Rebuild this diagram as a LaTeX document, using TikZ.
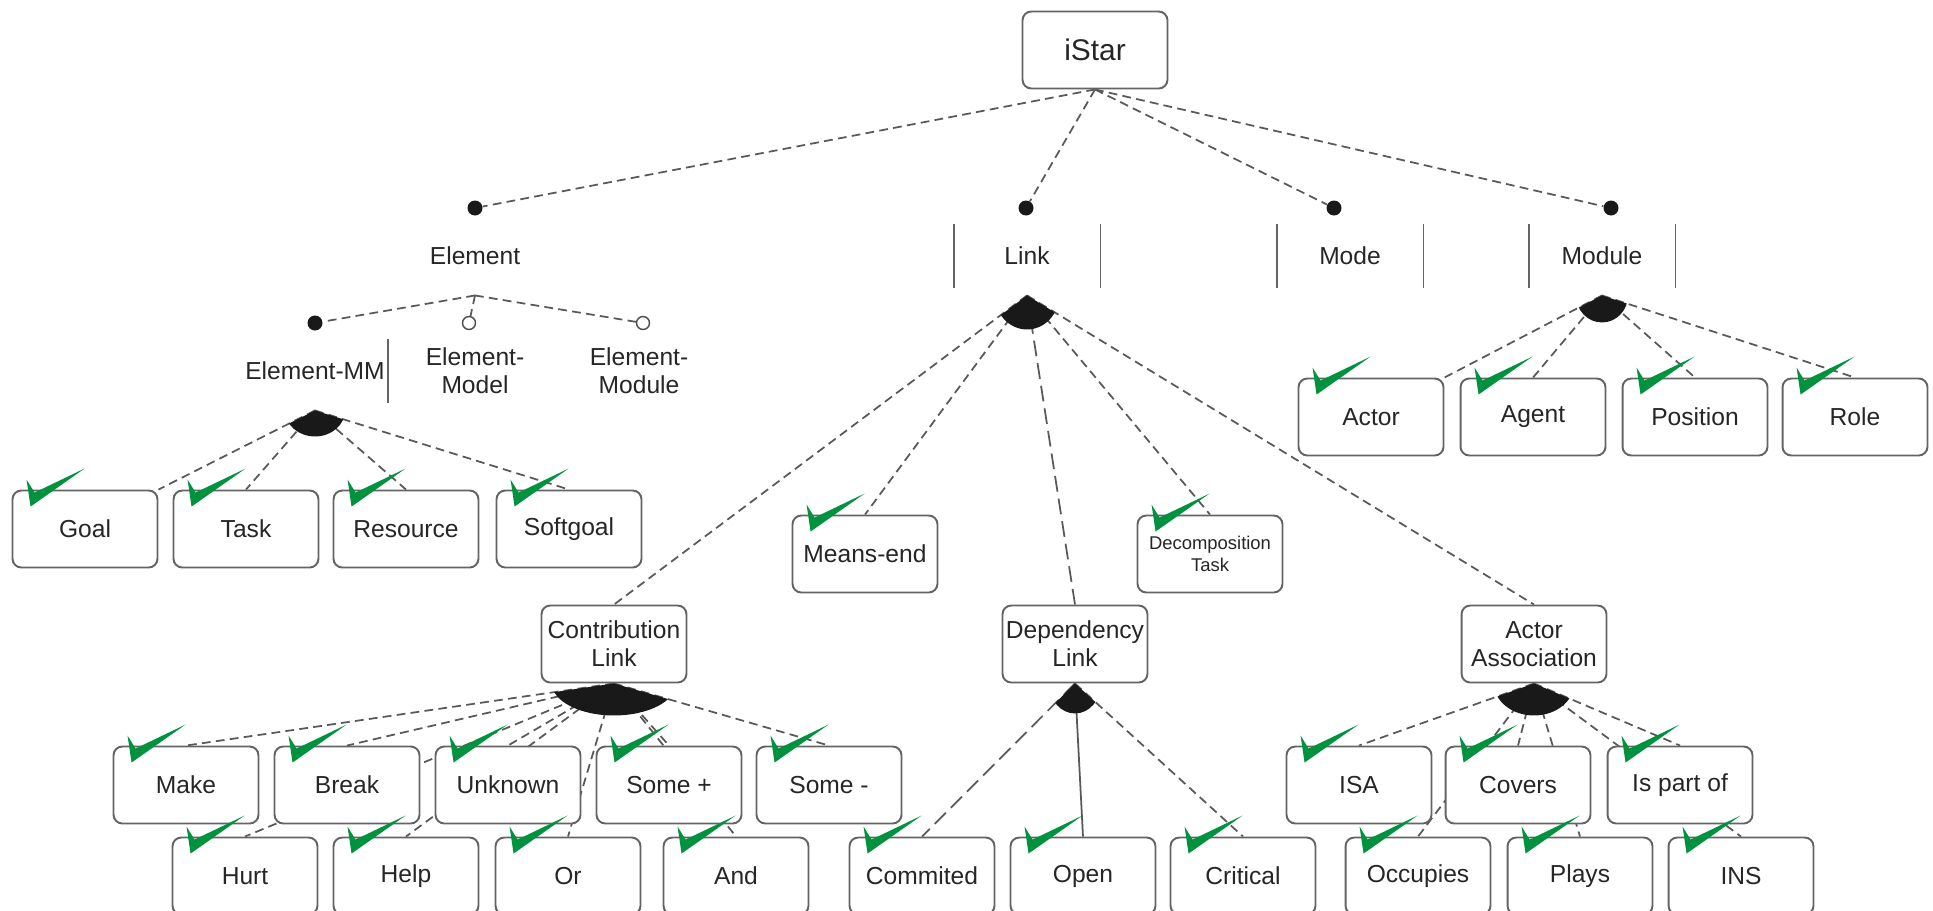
\documentclass[tikz,border=0pt]{standalone}
\usepackage{fontspec}
\setmainfont{Liberation Sans}
\usetikzlibrary{calc,backgrounds}
\definecolor{tickgreen}{RGB}{0,146,63}
\definecolor{boxgray}{RGB}{100,100,100}

\newcommand{\orfan}[5]{%
  \begin{scope}
    \clip (#1.south) -- ($(#1.south)!3!(#2)$) -- ($(#1.south)!3!(#3)$) -- cycle;
    \fill[black!90] (#1.south) ellipse (#4 and #5);
  \end{scope}}

\begin{document}
\begin{tikzpicture}[x=0.02cm, y=-0.02cm,
    feat node/.style={draw=boxgray, line width=1.1pt, rounded corners=5pt, fill=white,
      minimum width=2.9cm, minimum height=1.54cm, align=center, inner sep=1pt,
      font=\fontsize{14}{16}\selectfont, text=black!85},
    abs node/.style={feat node, draw=none, fill=none},
    mand/.style={circle, fill=black!90, inner sep=0pt, minimum size=0.3cm},
    opt/.style={circle, draw=black!70, line width=0.8pt, fill=white, inner sep=0pt, minimum size=0.26cm},
    conn/.style={draw=black!65, line width=1pt, dash pattern=on 5pt off 3pt},
    dep line/.style={draw=black!65, line width=1pt, dash pattern=on 9pt off 4pt}]

  \useasboundingbox (0,0) rectangle (1933,910);

  \node[feat node, font=\fontsize{17}{20}\selectfont] (istar) at (1095,50) {iStar};

  \node[abs node] (elem) at (475,256) {Element};
  \node[abs node] (link) at (1027,256) {Link};
  \node[abs node] (mode) at (1350,256) {Mode};
  \node[abs node] (modl) at (1602,256) {Module};

  \node[abs node] (elmm) at (315,371) {Element-MM};
  \node[abs node] (elmo) at (475,371) {Element-\\Model};
  \node[abs node] (elmd) at (639,371) {Element-\\Module};

  \node[feat node] (goal) at (85,529) {Goal};
  \node[feat node] (task) at (246,529) {Task};
  \node[feat node] (res) at (406,529) {Resource};
  \node[feat node] (soft) at (569,529) {Softgoal};

  \node[feat node] (actor) at (1371,417) {Actor};
  \node[feat node] (agent) at (1533,417) {Agent};
  \node[feat node] (pos) at (1695,417) {Position};
  \node[feat node] (role) at (1855,417) {Role};

  \node[feat node] (means) at (865,554) {Means-end};
  \node[feat node, font=\fontsize{10.5}{12.5}\selectfont] (decomp) at (1210,554) {Decomposition\\Task};

  \node[feat node] (contr) at (614,644) {Contribution\\Link};
  \node[feat node] (dep) at (1075,644) {Dependency\\Link};
  \node[feat node] (assoc) at (1534,644) {Actor\\Association};

  \node[feat node] (make) at (186,785) {Make};
  \node[feat node] (break) at (347,785) {Break};
  \node[feat node] (unkn) at (508,785) {Unknown};
  \node[feat node] (somep) at (669,785) {Some +};
  \node[feat node] (somem) at (829,785) {Some -};
  \node[feat node] (hurt) at (245,876) {Hurt};
  \node[feat node] (help) at (406,876) {Help};
  \node[feat node] (orl) at (568,876) {Or};
  \node[feat node] (andl) at (736,876) {And};

  \node[feat node] (comm) at (922,876) {Commited};
  \node[feat node] (open) at (1083,876) {Open};
  \node[feat node] (crit) at (1243,876) {Critical};

  \node[feat node] (isa) at (1359,785) {ISA};
  \node[feat node] (covers) at (1518,785) {Covers};
  \node[feat node] (ispart) at (1680,785) {Is part of};
  \node[feat node] (occ) at (1418,876) {Occupies};
  \node[feat node] (plays) at (1580,876) {Plays};
  \node[feat node] (ins) at (1741,876) {INS};

  % abstract boxes only keep their sides
  \foreach \n in {link,mode,modl}
    \draw[boxgray, line width=1.1pt] ([yshift=-4pt]\n.north west) -- ([yshift=4pt]\n.south west)
      ([yshift=-4pt]\n.north east) -- ([yshift=4pt]\n.south east);
  \draw[boxgray, line width=1.1pt] ([yshift=-4pt]elmm.north east) -- ([yshift=4pt]elmm.south east);

  \node[mand] (delem) at (475,208) {};
  \node[mand] (dlink) at (1026,208) {};
  \node[mand] (dmode) at (1334,208) {};
  \node[mand] (dmodl) at (1611,208) {};
  \node[mand] (delmm) at (315,323) {};
  \node[opt] (oelmo) at (469,323) {};
  \node[opt] (oelmd) at (643,323) {};

  \begin{scope}[on background layer]
  \path[conn]
  (istar.south) edge (delem)
  (istar.south) edge (dlink)
  (istar.south) edge (dmode)
  (istar.south) edge (dmodl)
  (elem.south) edge (delmm)
  (elem.south) edge (oelmo)
  (elem.south) edge (oelmd)
  (elmm.south) edge (goal.north east)
  (elmm.south) edge (task.north)
  (elmm.south) edge (res.north)
  (elmm.south) edge (soft.north)
  (modl.south) edge (actor.north east)
  (modl.south) edge (agent.north)
  (modl.south) edge (pos.north)
  (modl.south) edge (role.north)
  (link.south) edge (contr.north)
  (link.south) edge (means.north)
  (link.south) edge (decomp.north)
  (link.south) edge (assoc.north)
  (contr.south) edge (make.north)
  (contr.south) edge (break.north)
  (contr.south) edge (unkn.north)
  (contr.south) edge (somep.north)
  (contr.south) edge (somem.north)
  (contr.south) edge (hurt.north)
  (contr.south) edge (help.north)
  (contr.south) edge (orl.north)
  (contr.south) edge (andl.north)
  (dep.south) edge (crit.north)
  (assoc.south) edge (isa.north)
  (assoc.south) edge (covers.north)
  (assoc.south) edge (ispart.north)
  (assoc.south) edge (occ.north)
  (assoc.south) edge (plays.north)
  (assoc.south) edge (ins.north);
  \path[dep line]
  (link.south) edge (dep.north)
  (dep.south) edge (comm.north)
  (dep.south) edge[solid] (open.north);
  \end{scope}

  \orfan{elmm}{goal.north east}{soft.north}{0.6cm}{0.52cm}
  \orfan{modl}{actor.north east}{role.north}{0.52cm}{0.54cm}
  \orfan{link}{contr.north}{assoc.north}{0.64cm}{0.68cm}
  \orfan{contr}{make.north}{somem.north}{1.24cm}{0.64cm}
  \orfan{dep}{comm.north}{crit.north}{0.52cm}{0.6cm}
  \orfan{assoc}{isa.north}{ispart.north}{0.8cm}{0.64cm}

  % selected features
  \foreach \n in {goal,task,res,soft,actor,agent,pos,role,means,decomp,
                  make,break,unkn,somep,somem,hurt,help,orl,andl,
                  comm,open,crit,isa,covers,ispart,occ,plays,ins}
    \fill[tickgreen] ([shift={(15,-10)}]\n.north west) -- ([shift={(23,3)}]\n.north west)
      -- ([shift={(73,-21)}]\n.north west) -- ([shift={(19,17)}]\n.north west) -- cycle;

\end{tikzpicture}
\end{document}
